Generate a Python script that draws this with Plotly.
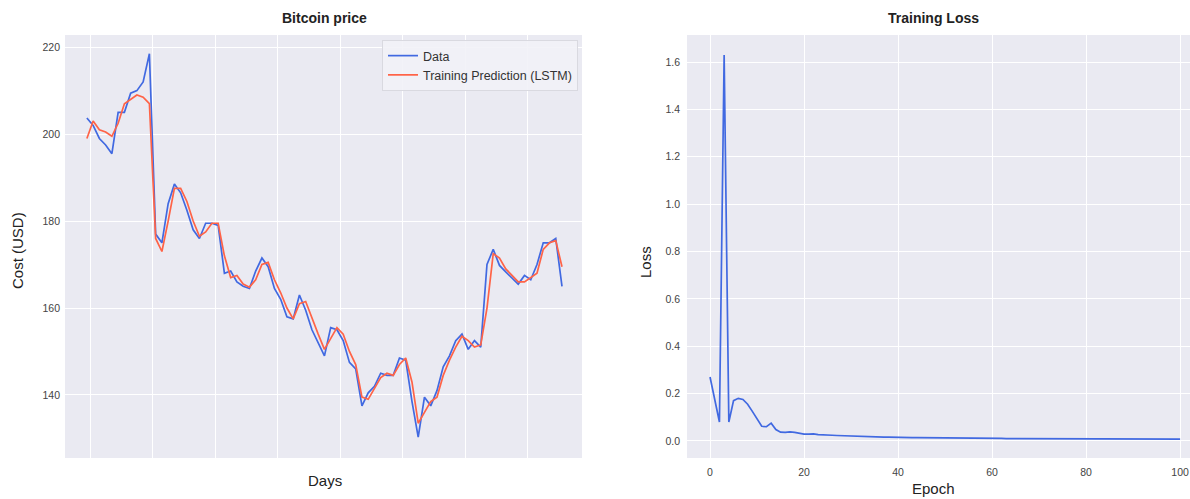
import plotly.graph_objects as go

# ---- Data: Bitcoin price (every 2 days) ----
day_step = 2
price_data = [203.7, 202.0, 199.0, 197.5, 195.5, 205.0, 205.0, 209.4, 210.0, 212.0,
              218.5, 177.0, 175.0, 184.0, 188.5, 186.5, 182.5, 178.0, 176.0, 179.5,
              179.5, 179.0, 168.0, 168.5, 166.0, 165.0, 164.5, 168.5, 171.5, 169.5,
              164.5, 162.0, 158.0, 157.5, 163.0, 159.5, 155.0, 152.0, 149.0, 155.5,
              155.0, 152.5, 147.5, 146.0, 137.5, 140.5, 142.0, 145.0, 144.5, 144.5,
              148.5, 148.0, 138.5, 130.3, 139.5, 137.5, 141.0, 146.5, 149.0, 152.5,
              154.0, 150.5, 152.5, 151.0, 170.0, 173.5, 169.8, 168.3, 167.0, 165.5,
              167.5, 166.5, 170.0, 175.0, 175.0, 176.0, 165.0]
price_pred = [199.0, 203.0, 201.0, 200.5, 199.5, 202.5, 207.0, 208.0, 209.0, 208.5,
              207.0, 176.0, 173.0, 180.0, 187.5, 187.5, 184.5, 180.0, 176.5, 177.5,
              179.5, 179.5, 172.0, 167.0, 167.5, 165.5, 164.8, 166.5, 170.0, 170.5,
              166.5, 163.5, 160.0, 157.5, 161.0, 161.5, 157.5, 154.0, 150.5, 153.0,
              155.5, 154.0, 150.0, 147.0, 139.5, 139.0, 141.5, 144.0, 145.0, 144.5,
              147.0, 148.5, 143.0, 133.5, 136.0, 138.5, 139.5, 144.5, 148.0, 151.0,
              153.5, 152.5, 151.0, 151.5, 160.0, 172.5, 171.5, 169.0, 167.5, 166.0,
              166.0, 167.0, 168.0, 173.5, 175.0, 175.5, 169.5]
days = [i * day_step for i in range(len(price_data))]

# ---- Data: training loss per epoch ----
loss = [0.27, 0.17, 0.08, 1.63, 0.08, 0.17, 0.18, 0.175, 0.155, 0.125,
        0.095, 0.062, 0.06, 0.075, 0.048, 0.037, 0.036, 0.038, 0.036, 0.032,
        0.029, 0.029, 0.030, 0.027, 0.025, 0.024, 0.024, 0.023, 0.022, 0.021,
        0.020, 0.019, 0.019, 0.018, 0.018, 0.017, 0.017, 0.016, 0.016, 0.015,
        0.015, 0.015, 0.014, 0.014, 0.014, 0.014, 0.013, 0.013, 0.013, 0.013,
        0.013, 0.012, 0.012, 0.012, 0.012, 0.012, 0.012, 0.011, 0.011, 0.011,
        0.011, 0.011, 0.011, 0.010, 0.010, 0.010, 0.010, 0.010, 0.010, 0.010,
        0.010, 0.010, 0.009, 0.009, 0.009, 0.009, 0.009, 0.009, 0.009, 0.009,
        0.009, 0.009, 0.009, 0.009, 0.009, 0.008, 0.008, 0.008, 0.008, 0.008,
        0.008, 0.008, 0.008, 0.008, 0.008, 0.008, 0.008, 0.008, 0.008, 0.008, 0.008]
epochs = list(range(len(loss)))

price_yticks = [140, 160, 180, 200, 220]
price_xgrid = [1, 21, 41, 61, 81, 101, 121, 141]
loss_yticks = [0.0, 0.2, 0.4, 0.6, 0.8, 1.0, 1.2, 1.4, 1.6]
loss_xticks = [0, 20, 40, 60, 80, 100]

W, H = 1190, 499
BLUE = "#4169E1"
RED = "#FF6347"
BG = "#EAEAF2"
FONT = "Liberation Sans, Arial, sans-serif"

fig = go.Figure()
fig.add_trace(go.Scatter(x=days, y=price_data, mode="lines", name="Data",
                         line=dict(color=BLUE, width=1.7), xaxis="x", yaxis="y"))
fig.add_trace(go.Scatter(x=days, y=price_pred, mode="lines", name="Training Prediction (LSTM)",
                         line=dict(color=RED, width=1.7), xaxis="x", yaxis="y"))
fig.add_trace(go.Scatter(x=epochs, y=loss, mode="lines", name="Loss", showlegend=False,
                         line=dict(color=BLUE, width=1.7), xaxis="x2", yaxis="y2"))

def px_x(p):
    return p / W

def px_y(p):
    return 1 - p / H

ydom = [px_y(458), px_y(35)]
axis_common = dict(showgrid=True, gridcolor="white", gridwidth=1.3, zeroline=False,
                   showline=False, ticks="", tickfont=dict(family=FONT, size=10.5, color="#444"))

fig.update_layout(
    width=W, height=H,
    margin=dict(l=0, r=0, t=0, b=0),
    paper_bgcolor="white", plot_bgcolor=BG,
    font=dict(family=FONT, color="#222"),
    xaxis=dict(domain=[px_x(65), px_x(582)], range=[-7.0, 158.4],
               tickvals=price_xgrid, ticktext=[""] * len(price_xgrid), anchor="y", **axis_common),
    yaxis=dict(domain=ydom, range=[125.5, 222.8], tickvals=price_yticks, anchor="x",
               ticklabelstandoff=4, **axis_common),
    xaxis2=dict(domain=[px_x(687), 1.0], range=[-4.9, 102.1], tickvals=loss_xticks,
                anchor="y2", ticklabelstandoff=6, **axis_common),
    yaxis2=dict(domain=ydom, range=[-0.072, 1.714], tickvals=loss_yticks,
                tickformat=".1f", anchor="x2", ticklabelstandoff=6, **axis_common),
    legend=dict(x=px_x(578), y=px_y(40), xanchor="right", yanchor="top",
                bgcolor="rgba(242,242,247,0.9)", bordercolor="#d9d9e0", borderwidth=1,
                font=dict(family=FONT, size=12.5, color="#333"), itemwidth=30,
                tracegroupgap=0),
    showlegend=True,
)

def label(text, x, y, size, bold=False, angle=0):
    fig.add_annotation(text=f"<b>{text}</b>" if bold else text,
                       x=px_x(x), y=px_y(y), xref="paper", yref="paper",
                       showarrow=False, textangle=angle,
                       font=dict(family=FONT, size=size, color="#222"),
                       xanchor="center", yanchor="middle")

label("Bitcoin price", 325, 18, 14, bold=True)
label("Training Loss", 933, 18, 14, bold=True)
label("Cost (USD)", 18, 251, 15, angle=-90)
label("Days", 325, 480, 15)
label("Loss", 645, 262, 15, angle=-90)
label("Epoch", 933, 488, 15)

fig.write_html("out.html", config={"displayModeBar": False},
               post_script="document.body.style.margin='0';document.body.style.padding='0';")
